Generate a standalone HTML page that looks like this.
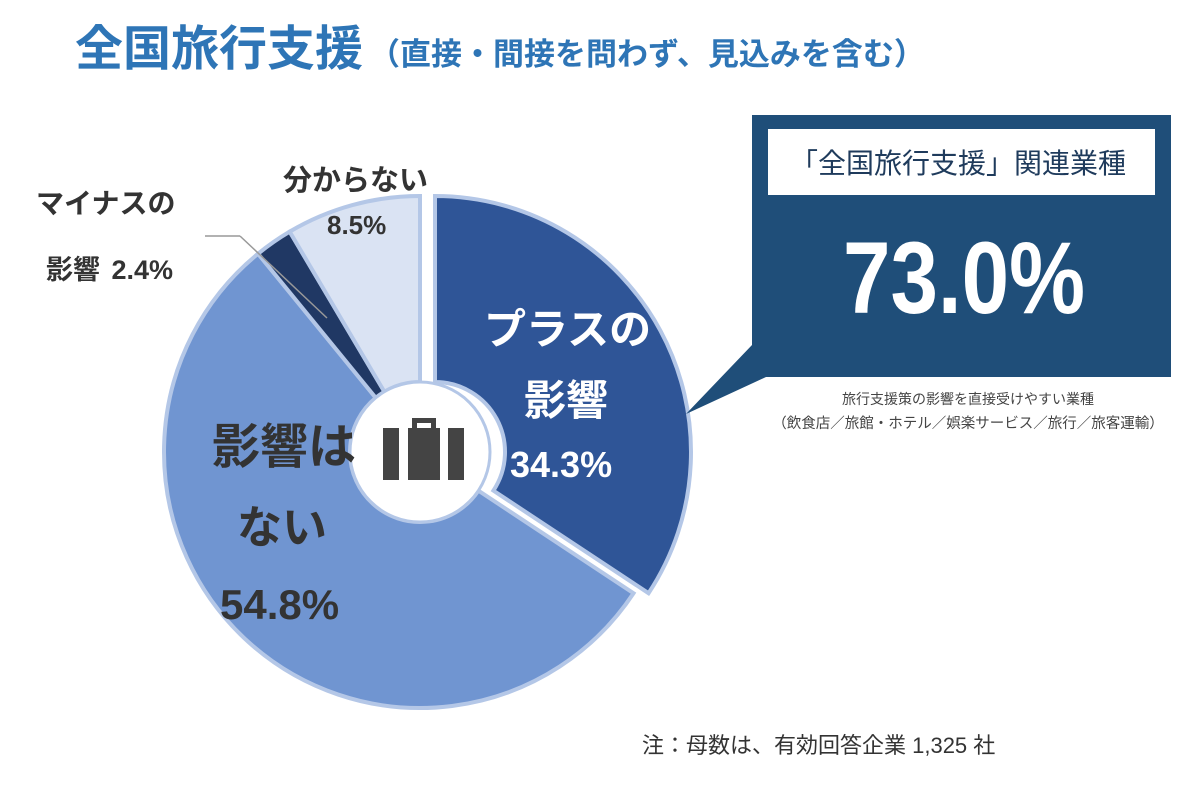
<!DOCTYPE html>
<html><head><meta charset="utf-8"><style>
body{margin:0;background:#fff;width:1200px;height:781px;overflow:hidden;font-family:"Liberation Sans","Noto Sans CJK JP",sans-serif}
svg text{font-family:"Liberation Sans","Noto Sans CJK JP",sans-serif}
</style></head><body>
<svg id="chart" width="1200" height="781">
<text x="75" y="65" font-size="48" font-weight="bold" fill="#2e75b6">全国旅行支援<tspan font-size="31" dx="6">（直接・間接を問わず、見込みを含む）</tspan></text>
<g id="slices"></g>
<circle cx="420" cy="452" r="70" fill="#fff" stroke="#b4c7e7" stroke-width="3"/>
<g fill="#444">
<rect x="383" y="428" width="16" height="52"/><rect x="408" y="428" width="32" height="52"/><rect x="448" y="428" width="16" height="52"/>
<path d="M412 428 v-10 h24 v10 h-5 v-5 h-14 v5z"/>
</g>
<line x1="205" y1="236" x2="240" y2="236" stroke="#999" stroke-width="1.5"/>
<line x1="240" y1="236" x2="327" y2="318" stroke="#999" stroke-width="1.5"/>
<text x="484" y="344" font-size="42" font-weight="bold" fill="#fff">プラスの</text>
<text x="524" y="415" font-size="42" font-weight="bold" fill="#fff">影響</text>
<text x="510" y="477" font-size="36" font-weight="bold" fill="#fff">34.3%</text>
<text x="212" y="463" font-size="48" font-weight="bold" fill="#333">影響は</text>
<text x="237" y="543" font-size="45" font-weight="bold" fill="#333">ない</text>
<text x="220" y="619" font-size="42" font-weight="bold" fill="#333">54.8%</text>
<text x="36" y="213" font-size="28" font-weight="bold" fill="#333">マイナスの</text>
<text x="46" y="279" font-size="27" font-weight="bold" fill="#333">影響 <tspan dx="4">2.4%</tspan></text>
<text x="283" y="190" font-size="29" font-weight="bold" fill="#333">分からない</text>
<text x="327" y="234" font-size="26" font-weight="bold" fill="#333">8.5%</text>
<path d="M752 115 H1171 V377 H766 L686 414 L752 345 Z" fill="#1f4e79"/>
<rect x="768" y="129" width="387" height="66" fill="#fff"/>
<text x="958" y="173" font-size="28" text-anchor="middle" fill="#1f3b5c">「全国旅行支援」関連業種</text>
<text x="843" y="313" font-size="102" font-weight="bold" textLength="242" lengthAdjust="spacingAndGlyphs" fill="#fff">73.0%</text>
<text x="968" y="404" font-size="14" text-anchor="middle" fill="#444">旅行支援策の影響を直接受けやすい業種</text>
<text x="968" y="428" font-size="14.5" text-anchor="middle" fill="#444">（飲食店／旅館・ホテル／娯楽サービス／旅行／旅客運輸）</text>
<text x="642" y="753" font-size="22" fill="#333">注：母数は、有効回答企業 1,325 社</text>
</svg>
<script>
const categories = ["プラスの影響", "影響はない", "マイナスの影響", "分からない"];
const values = [34.3, 54.8, 2.4, 8.5];
const colors = ["#2f5597", "#7095d1", "#203864", "#dae3f3"];
const explodeX = [15, 0, 0, 0];
const explodeY = [0, 0, 0, 0];
const cx = 420, cy = 452, R = 256, r = 70;
const g = document.getElementById('slices');
const total = values.reduce((a,b)=>a+b,0);
function angleOf(v){ return v/total*2*Math.PI; }
function pt(a, rad, ox, oy){ return [ox + rad*Math.sin(a), oy - rad*Math.cos(a)]; }
let acc = 0;
values.forEach((v,i)=>{
  const a0 = angleOf(acc), a1 = angleOf(acc+v); acc += v;
  const ox = cx + explodeX[i], oy = cy + explodeY[i];
  const large = (a1-a0) > Math.PI ? 1 : 0;
  const p1 = pt(a0,R,ox,oy), p2 = pt(a1,R,ox,oy), p3 = pt(a1,r,ox,oy), p4 = pt(a0,r,ox,oy);
  const d = `M${p1} A${R},${R} 0 ${large} 1 ${p2} L${p3} A${r},${r} 0 ${large} 0 ${p4} Z`;
  const path = document.createElementNS('http://www.w3.org/2000/svg','path');
  path.setAttribute('d', d);
  path.setAttribute('fill', colors[i]);
  path.setAttribute('stroke', '#b4c7e7');
  path.setAttribute('stroke-width', '4');
  
  
  g.appendChild(path);
});
</script>
</body></html>
